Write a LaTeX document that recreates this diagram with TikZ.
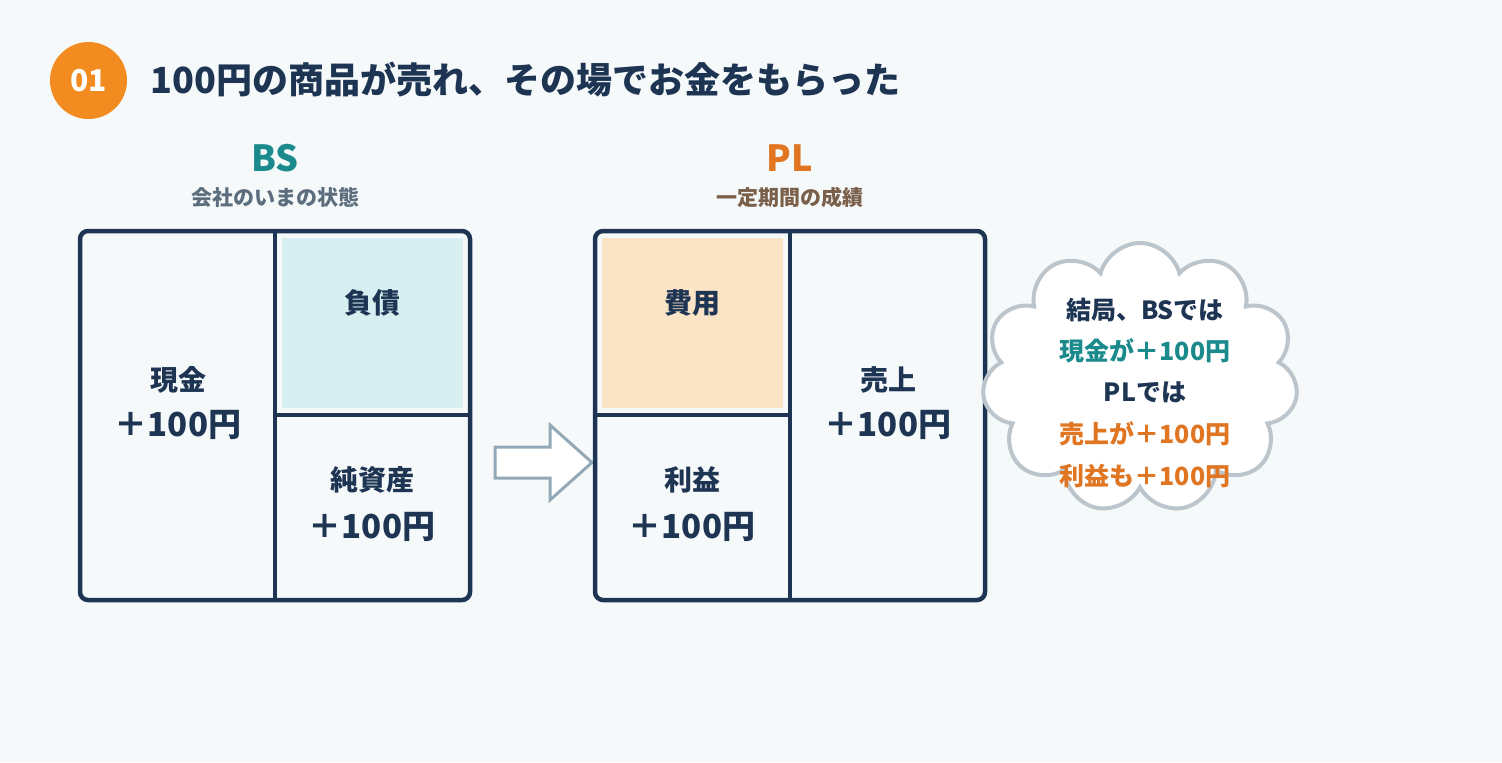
\documentclass[tikz,border=0pt]{standalone}
\usepackage{fontspec}
\setmainfont{Noto Sans CJK JP}
\usetikzlibrary{shapes.symbols,positioning}
\definecolor{navy}{HTML}{1D3553}
\definecolor{teal01}{HTML}{1A8A8C}
\definecolor{orange01}{HTML}{F28B20}
\definecolor{orangetxt}{HTML}{E07522}
\definecolor{bgcol}{HTML}{F6F9FA}
\definecolor{bluefill}{HTML}{D8EFF2}
\definecolor{peachfill}{HTML}{FBE3C6}
\definecolor{arrowgray}{HTML}{93A9B6}
\definecolor{cloudgray}{HTML}{BCC5CC}
\definecolor{bssub}{HTML}{5C6E7E}
\definecolor{plsub}{HTML}{7A5F4A}
\newcommand\fs[1]{\fontsize{#1}{#1}\selectfont}

\begin{document}
\begin{tikzpicture}[x=0.5pt,y=-0.5pt,font=\bfseries]%
        \fill[bgcol] (0,0) rectangle (1502,762);%%
        \useasboundingbox (0,0) rectangle (1502,762);%%
        \tikzset{box/.style={draw=navy,line width=2.25pt,rounded corners=4pt},%%
                 divider/.style={draw=navy,line width=2pt},%%
                 cellhead/.style={text=navy,font=\bfseries\fs{14}},%%
                 amount/.style={text=navy,font=\bfseries\fs{16.5}},%%
                 cloudline/.style={font=\bfseries\fs{12.5}}}%%
        % heading
        \node[circle,fill=orange01,minimum size=38.5pt,inner sep=0pt,text=white,font=\bfseries\fs{15}] (num) at (88.5,80.5) {01}; %%
        \node[anchor=west,inner sep=0pt,text=navy,font=\bfseries\fs{18}] (title) at (150,80) {100円の商品が売れ、その場でお金をもらった}; %%
        % BS
        \node[text=teal01,font=\bfseries\fs{18}] (bs) at (275,158) {BS}; %%
        \node[text=bssub,font=\bfseries\fs{10.5}] (bssubt) at (275,197) {会社のいまの状態}; %%
        \fill[bluefill] (282,238) rectangle (463,408); %%
        \draw[box] (80,231) rectangle (470,600); %%
        \draw[divider] (275,231) -- (275,600); %%
        \draw[divider] (275,415) -- (470,415); %%
        \node[cellhead] (genkin) at (178,380) {現金}; %%
        \node[amount] (genkinv) at (178,425) {＋100円}; %%
        \node[cellhead] (fusai) at (372,303) {負債}; %%
        \node[cellhead] (junshisan) at (372,480) {純資産}; %%
        \node[amount] (junshisanv) at (372,527) {＋100円}; %%
        % arrow
        \draw[draw=arrowgray,fill=white,line width=1.5pt] (495,447) -- (550,447) -- (550,425) -- (592,462.5) -- (550,500) -- (550,478) -- (495,478) -- cycle; %%
        % PL
        \node[text=orangetxt,font=\bfseries\fs{18}] (pl) at (790,158) {PL}; %%
        \node[text=plsub,font=\bfseries\fs{10.5}] (plsubt) at (790,197) {一定期間の成績}; %%
        \fill[peachfill] (602,238) rectangle (783,408); %%
        \draw[box] (595,231) rectangle (985,600); %%
        \draw[divider] (790,231) -- (790,600); %%
        \draw[divider] (595,415) -- (790,415); %%
        \node[cellhead] (hiyou) at (692,303) {費用}; %%
        \node[cellhead] (rieki) at (692,480) {利益}; %%
        \node[amount] (riekiv) at (692,527) {＋100円}; %%
        \node[cellhead] (uriage) at (888,380) {売上}; %%
        \node[amount] (uriagev) at (888,425) {＋100円}; %%
        % cloud
        \node[cloud,cloud puffs=11,cloud ignores aspect,draw=cloudgray,line width=2pt,fill=white,minimum width=158pt,minimum height=135pt] (kumo) at (1140,378) {}; %%
        \node[cloudline,text=navy] (c1) at (1145,310) {結局、BSでは}; %%
        \node[cloudline,text=teal01] (c2) at (1145,351) {現金が＋100円}; %%
        \node[cloudline,text=navy] (c3) at (1145,392) {PLでは}; %%
        \node[cloudline,text=orangetxt] (c4) at (1145,434) {売上が＋100円}; %%
        \node[cloudline,text=orangetxt] (c5) at (1145,476) {利益も＋100円}; %%
\end{tikzpicture}
\end{document}
